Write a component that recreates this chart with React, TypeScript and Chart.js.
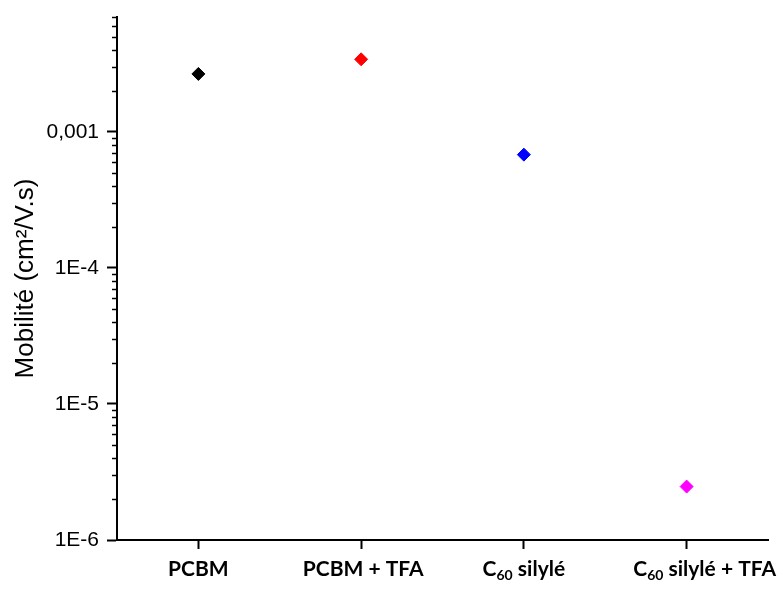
import React, { useEffect, useRef } from "react";
import { Chart, registerables } from "chart.js";

Chart.register(...registerables);

const categories = ["PCBM", "PCBM + TFA", "C₆₀ silylé", "C₆₀ silylé + TFA"];
const mobility = [0.00267, 0.00342, 0.000681, 0.00000247];
const pointColors = ["#000000", "#ff0000", "#0000ff", "#ff00ff"];
const majorTicks = [1e-6, 1e-5, 1e-4, 1e-3];
const yMin = 1e-6;
const yMax = 0.007;
const yTitle = "Mobilité (cm²/V.s)";

const SUB_MAP: Record<string, string> = { "₀": "0", "₁": "1", "₂": "2", "₃": "3", "₄": "4", "₅": "5", "₆": "6", "₇": "7", "₈": "8", "₉": "9" };

const formatTick = (v: number) => {
  if (Math.abs(v - 0.001) < 1e-9) return "0,001";
  return "1E" + Math.round(Math.log10(v));
};

// split a label into normal / subscript runs
const splitRuns = (s: string) => {
  const runs: { text: string; sub: boolean }[] = [];
  for (const ch of s) {
    const sub = ch in SUB_MAP;
    const c = sub ? SUB_MAP[ch] : ch;
    const last = runs[runs.length - 1];
    if (last && last.sub === sub) last.text += c;
    else runs.push({ text: c, sub });
  }
  return runs;
};

const minorTicksPlugin = {
  id: "minorTicks",
  afterDraw(chart: any) {
    const y = chart.scales.y;
    const ctx = chart.ctx;
    const x0 = chart.chartArea.left;
    ctx.save();
    ctx.strokeStyle = "#000";
    ctx.lineWidth = 1.5;
    for (let e = -6; e <= -3; e++) {
      for (let k = 2; k <= 9; k++) {
        const v = k * Math.pow(10, e);
        if (v > yMax * 1.0001) continue;
        const py = Math.round(y.getPixelForValue(v)) + 0.5;
        ctx.beginPath();
        ctx.moveTo(x0 - 5, py);
        ctx.lineTo(x0, py);
        ctx.stroke();
      }
    }
    ctx.restore();
  },
};

const labelShift = [0, 2, 0, 18];

const xLabelPlugin = {
  id: "xLabels",
  afterDraw(chart: any) {
    const x = chart.scales.x;
    const ctx = chart.ctx;
    const mainFont = "bold 21px Lato";
    const subFont = "bold 14px Lato";
    const baseY = x.top + 36;
    ctx.save();
    ctx.fillStyle = "#000";
    ctx.textBaseline = "alphabetic";
    ctx.textAlign = "left";
    categories.forEach((label, i) => {
      const runs = splitRuns(label);
      let total = 0;
      const widths = runs.map((r) => {
        ctx.font = r.sub ? subFont : mainFont;
        const w = ctx.measureText(r.text).width;
        total += w;
        return w;
      });
      let cx = x.getPixelForTick(i) - total / 2 + labelShift[i];
      runs.forEach((r, j) => {
        ctx.font = r.sub ? subFont : mainFont;
        ctx.fillText(r.text, cx, r.sub ? baseY + 4 : baseY);
        cx += widths[j];
      });
    });
    ctx.restore();
  },
};

export default function App() {
  const ref = useRef<HTMLCanvasElement>(null);
  useEffect(() => {
    document.body.style.margin = "0";
    const chart = new Chart(ref.current!, {
      type: "line",
      data: {
        labels: categories,
        datasets: [
          {
            data: mobility,
            showLine: false,
            pointStyle: "rectRot",
            pointRadius: 6.5,
            pointBorderWidth: 1,
            pointBackgroundColor: pointColors,
            pointBorderColor: pointColors,
          },
        ],
      },
      options: {
        animation: false,
        responsive: true,
        maintainAspectRatio: false,
        layout: { padding: { top: 17, right: 15, left: 0, bottom: 0 } },
        plugins: { legend: { display: false }, tooltip: { enabled: false } },
        scales: {
          x: {
            type: "category",
            offset: true,
            grid: {
              drawOnChartArea: false,
              offset: false,
              tickLength: 9,
              tickWidth: 2,
              tickColor: "#000",
            },
            border: { color: "#000", width: 2 },
            ticks: { display: false, autoSkip: false },
            afterFit: (s: any) => {
              s.height = 50;
              s.paddingLeft = 0;
              s.paddingRight = 0;
            },
          },
          y: {
            type: "logarithmic",
            position: "left",
            min: yMin,
            max: yMax,
            bounds: "data",
            grid: {
              drawOnChartArea: false,
              tickLength: 10,
              tickWidth: 2,
              tickColor: "#000",
            },
            border: { color: "#000", width: 2 },
            ticks: {
              color: "#000",
              font: { family: "Liberation Sans", size: 21 },
              padding: 8,
              callback: (v: any) => formatTick(Number(v)),
            },
            title: {
              display: true,
              text: yTitle,
              color: "#000",
              font: { family: "Liberation Sans", size: 26 },
              padding: { top: 10, bottom: 0 },
            },
            afterBuildTicks: (s: any) => {
              s.ticks = majorTicks.map((v) => ({ value: v, major: true }));
            },
            afterFit: (s: any) => {
              s.width = 117;
              s.paddingTop = 0;
              s.paddingBottom = 0;
            },
          },
        },
      },
      plugins: [minorTicksPlugin, xLabelPlugin],
    });
    return () => chart.destroy();
  }, []);
  return (
    <div style={{ width: 783, height: 590, position: "relative" }}>
      <canvas ref={ref} />
    </div>
  );
}
